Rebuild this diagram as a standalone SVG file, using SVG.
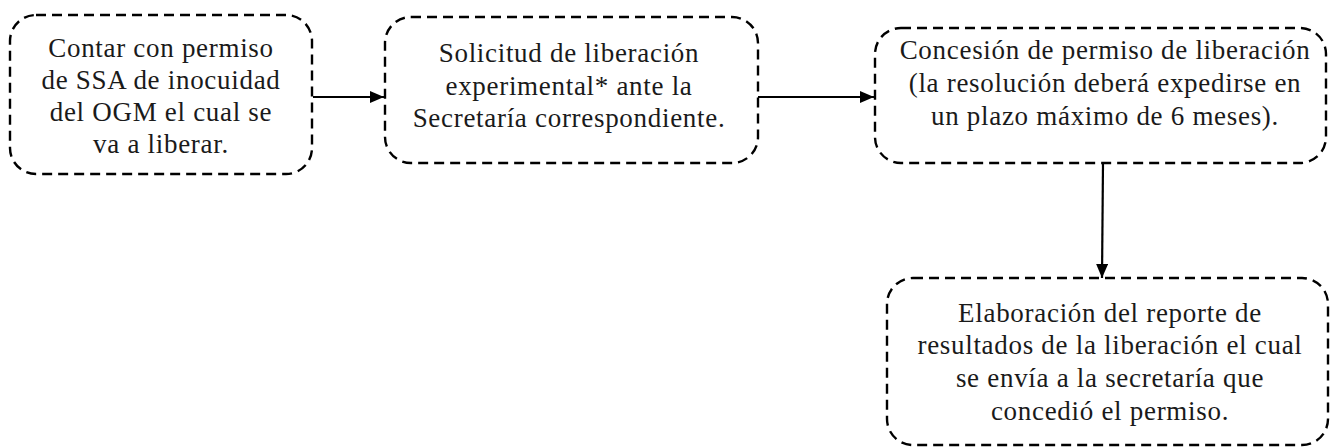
<svg xmlns="http://www.w3.org/2000/svg" width="1330" height="447" viewBox="0 0 1330 447">
<style>
.box{fill:#fff;stroke:#000;stroke-width:2.4;stroke-dasharray:10 6}
.t{font-family:"Liberation Serif","Times New Roman",serif;font-size:27px;fill:#1a1a1a;text-anchor:middle;letter-spacing:0.7px}
.c{stroke:#000;stroke-width:2.2;fill:none}
</style>
<defs>
<marker id="ah" viewBox="0 0 14 12" refX="14" refY="6" markerWidth="14" markerHeight="12" markerUnits="userSpaceOnUse" orient="auto">
<path d="M0,0 L14,6 L0,12 Z" fill="#000"/>
</marker>
</defs>
<g id="connectors">
<line class="c" x1="313" y1="97" x2="384" y2="97" marker-end="url(#ah)"/>
<line class="c" x1="758" y1="97" x2="874" y2="97" marker-end="url(#ah)"/>
<line class="c" x1="1103" y1="163" x2="1102" y2="278" marker-end="url(#ah)"/>
</g>
<g id="n1">
<rect class="box" x="10" y="15" width="302" height="159" rx="26"/>
<text class="t" x="161" y="57">Contar con permiso</text>
<text class="t" x="161" y="89">de SSA de inocuidad</text>
<text class="t" x="161" y="121">del OGM el cual se</text>
<text class="t" x="161" y="153">va a liberar.</text>
</g>
<g id="n2">
<rect class="box" x="385" y="17" width="373" height="146" rx="26"/>
<text class="t" x="569" y="62">Solicitud de liberación</text>
<text class="t" x="569" y="95">experimental* ante la</text>
<text class="t" x="569" y="127">Secretaría correspondiente.</text>
</g>
<g id="n3">
<rect class="box" x="875" y="28" width="451" height="135" rx="26"/>
<text class="t" x="1105" y="59">Concesión de permiso de liberación</text>
<text class="t" x="1105" y="92">(la resolución deberá expedirse en</text>
<text class="t" x="1105" y="125">un plazo máximo de 6 meses).</text>
</g>
<g id="n4">
<rect class="box" x="887" y="278" width="441" height="167" rx="26"/>
<text class="t" x="1110" y="322">Elaboración del reporte de</text>
<text class="t" x="1110" y="354">resultados de la liberación el cual</text>
<text class="t" x="1110" y="387">se envía a la secretaría que</text>
<text class="t" x="1110" y="420">concedió el permiso.</text>
</g>
</svg>
